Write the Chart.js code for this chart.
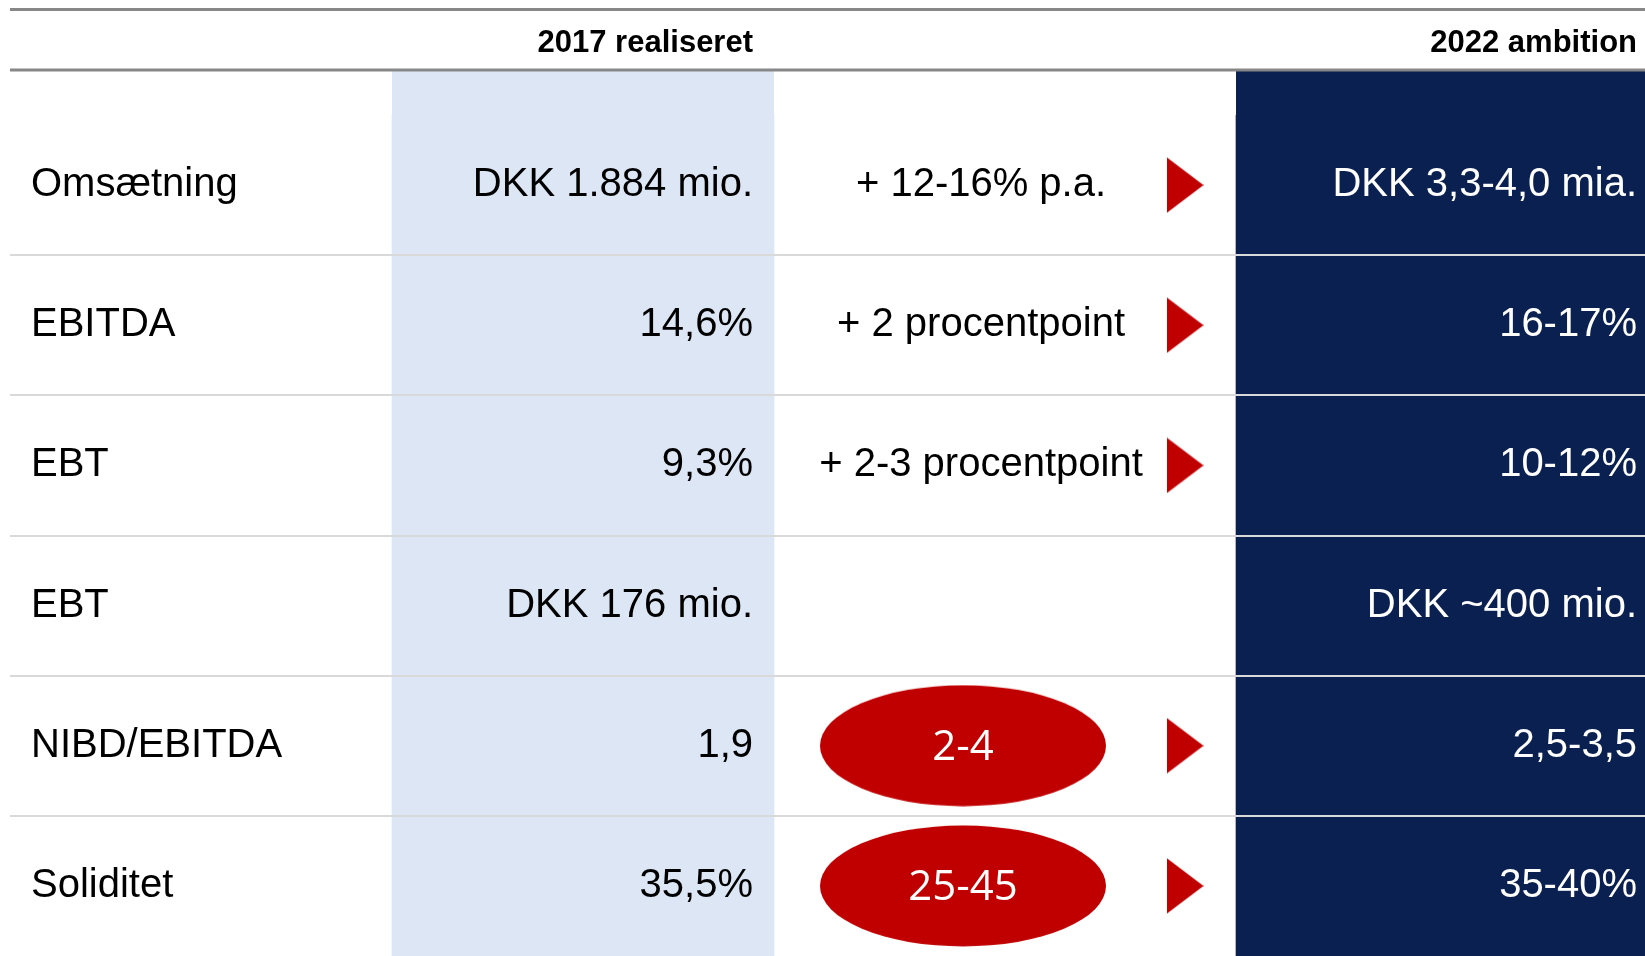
<!DOCTYPE html>
<html>
<head>
<meta charset="utf-8">
<script src="https://cdn.jsdelivr.net/npm/chart.js@4.4.0/dist/chart.umd.min.js"></script>
<style>
  html, body { margin: 0; padding: 0; background: #fff; overflow: hidden; }
  canvas { display: block; }
</style>
</head>
<body>
<canvas id="myChart" width="1645" height="956"></canvas>
<script>
// table content
const metrics = ['Omsætning', 'EBITDA', 'EBT', 'EBT', 'NIBD/EBITDA', 'Soliditet'];
const realised2017 = ['DKK 1.884 mio.', '14,6%', '9,3%', 'DKK 176 mio.', '1,9', '35,5%'];
const change = ['+ 12-16% p.a.', '+ 2 procentpoint', '+ 2-3 procentpoint', '', '', ''];
const targetRange = [null, null, null, null, '2-4', '25-45'];
const hasArrow = [true, true, true, false, true, true];
const ambition2022 = ['DKK 3,3-4,0 mia.', '16-17%', '10-12%', 'DKK ~400 mio.', '2,5-3,5', '35-40%'];
const headers = ['2017 realiseret', '2022 ambition'];

// layout, x in units of the x scale (= pixels here)
var blueCol = [392, 774];
var navyCol = [1236, 1645];
var blueTextX = 753;
var midTextX = 981;
var ovalX = 963;
var arrowX = 1185;
var navyTextX = 1637;
var headerY = 43;
var topLineY = 9.5;
var headLineY = 70;

var RED = '#c00000';
var BLUE = '#dce6f4';
var NAVY = '#0a2050';

function makeArrow() {
    var c = document.createElement('canvas');
    c.width = 37; c.height = 56;
    var g = c.getContext('2d');
    g.fillStyle = RED;
    g.beginPath(); g.moveTo(0, 0); g.lineTo(37, 28); g.lineTo(0, 56); g.closePath(); g.fill();
    return c;
}
function makeOval() {
    var c = document.createElement('canvas');
    c.width = 288; c.height = 122;
    var g = c.getContext('2d');
    g.fillStyle = RED;
    g.beginPath(); g.ellipse(144, 61, 143, 60.5, 0, 0, Math.PI * 2); g.fill();
    return c;
}

function noPadding(s) {
    s.paddingTop = 0; s.paddingBottom = 0; s.paddingLeft = 0; s.paddingRight = 0;
}

const tablePlugin = {
    id: 'table',
    beforeDatasetsDraw(chart) {
        // shaded columns continue up to the header rule
        var ctx = chart.ctx, top = chart.chartArea.top;
        [0, 1].forEach(function (i) {
            var bar = chart.getDatasetMeta(i).data[0];
            var l = Math.min(bar.x, bar.base), r = Math.max(bar.x, bar.base);
            ctx.fillStyle = chart.data.datasets[i].backgroundColor;
            ctx.fillRect(l, headLineY, r - l, top - headLineY + 1);
        });
    },
    afterDatasetsDraw(chart) {
        var ctx = chart.ctx, x = chart.scales.x, y = chart.scales.y, area = chart.chartArea;
        ctx.save();
        ctx.strokeStyle = '#878787';
        ctx.lineWidth = 3;
        [topLineY, headLineY].forEach(function (yy) {
            ctx.beginPath(); ctx.moveTo(area.left, yy); ctx.lineTo(area.right, yy); ctx.stroke();
        });
        ctx.textBaseline = 'middle';
        ctx.fillStyle = '#000';
        ctx.textAlign = 'right';
        ctx.font = 'bold 31px "Liberation Sans", Arial, sans-serif';
        ctx.fillText(headers[0], x.getPixelForValue(blueTextX), headerY);
        ctx.fillText(headers[1], x.getPixelForValue(navyTextX), headerY);

        ctx.font = '40px "Liberation Sans", Arial, sans-serif';
        metrics.forEach(function (m, i) {
            var py = y.getPixelForValue(i);
            ctx.fillStyle = '#000';
            ctx.textAlign = 'right';
            ctx.fillText(realised2017[i], x.getPixelForValue(blueTextX), py);
            if (change[i]) {
                ctx.textAlign = 'center';
                ctx.fillText(change[i], x.getPixelForValue(midTextX), py);
            }
            ctx.fillStyle = '#fff';
            ctx.textAlign = 'right';
            ctx.fillText(ambition2022[i], x.getPixelForValue(navyTextX), py);
        });

        ctx.font = '42px "Open Sans", sans-serif';
        ctx.fillStyle = '#fff';
        ctx.textAlign = 'center';
        var ovals = chart.getDatasetMeta(3).data;
        targetRange.forEach(function (r, i) {
            if (!r) return;
            ctx.fillText(r, ovals[i].x, ovals[i].y + 2);
        });
        ctx.restore();
    }
};

new Chart(document.getElementById('myChart'), {
    type: 'bar',
    data: {
        labels: metrics,
        datasets: [
            {
                data: metrics.map(function () { return blueCol.slice(); }),
                backgroundColor: BLUE,
                grouped: false, barPercentage: 1, categoryPercentage: 1,
                borderWidth: 0, order: 3
            },
            {
                data: metrics.map(function () { return navyCol.slice(); }),
                backgroundColor: NAVY,
                grouped: false, barPercentage: 1, categoryPercentage: 1,
                borderWidth: 0, order: 3
            },
            {
                type: 'line', indexAxis: 'y', showLine: false,
                data: hasArrow.map(function (a) { return a ? arrowX : null; }),
                pointStyle: makeArrow(), pointRadius: 1, order: 1
            },
            {
                type: 'line', indexAxis: 'y', showLine: false,
                data: targetRange.map(function (r) { return r ? ovalX : null; }),
                pointStyle: makeOval(), pointRadius: 1, order: 1
            }
        ]
    },
    options: {
        indexAxis: 'y',
        responsive: false,
        animation: false,
        events: [],
        layout: { autoPadding: false, padding: { top: 115, left: 10, right: 0, bottom: 0 } },
        plugins: { legend: { display: false }, tooltip: { enabled: false } },
        scales: {
            x: { type: 'linear', display: false, min: 10, max: 1645, afterFit: noPadding },
            y: {
                type: 'category',
                offset: true,
                border: { display: false },
                grid: {
                    z: 1, offset: true, drawTicks: false, lineWidth: 2,
                    color: function (c) { return (c.type === 'tick' && c.index > 0) ? '#d9d9d9' : 'rgba(0,0,0,0)'; }
                },
                ticks: {
                    mirror: true, padding: 21, color: '#000',
                    font: { family: '"Liberation Sans", Arial, sans-serif', size: 40 }
                },
                afterFit: function (s) { s.width = 0; noPadding(s); }
            }
        }
    },
    plugins: [tablePlugin]
});
</script>
</body>
</html>
